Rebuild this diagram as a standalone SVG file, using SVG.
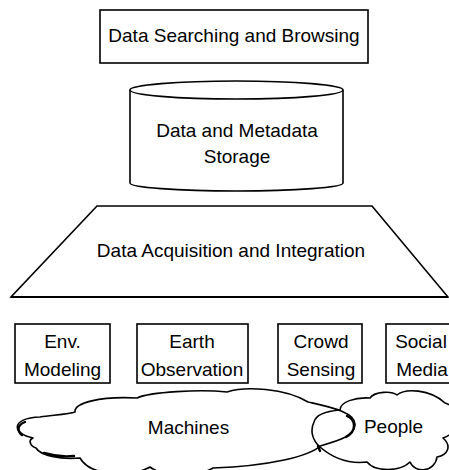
<svg xmlns="http://www.w3.org/2000/svg" width="449" height="470" viewBox="0 0 449 470">
  <style>
    .shape { fill: #ffffff; stroke: #000000; stroke-width: 1.6; stroke-linejoin: miter; }
    .cloud { fill: none; stroke: #000000; stroke-width: 1.6; stroke-linejoin: round; }
    .heavy { fill: none; stroke: #000000; stroke-width: 2.4; stroke-linecap: round; }
    .label { font-family: "Liberation Sans", Arial, sans-serif; font-size: 19px; fill: #000000; text-anchor: middle; }
  </style>

  <rect width="449" height="470" fill="#ffffff"/>

  <!-- Top layer: searching / browsing -->
  <g id="search">
    <rect class="shape" x="100" y="10" width="268" height="53"/>
    <text class="label" x="234" y="42">Data Searching and Browsing</text>
  </g>

  <!-- Storage cylinder -->
  <g id="storage">
    <path class="shape" d="M130 90 L130 183 A106.5 8 0 0 0 343 183 L343 90"/>
    <ellipse class="shape" cx="236.5" cy="90" rx="106.5" ry="9"/>
    <text class="label" x="237" y="137">Data and Metadata</text>
    <text class="label" x="237" y="163">Storage</text>
  </g>

  <!-- Acquisition trapezoid -->
  <g id="acquisition">
    <polygon class="shape" points="97,206 372,206 448,297 11,297"/>
    <line x1="11" y1="297" x2="448" y2="297" stroke="#000000" stroke-width="2.2"/>
    <text class="label" x="231" y="257">Data Acquisition and Integration</text>
  </g>

  <!-- Sources -->
  <g id="env-modeling">
    <rect class="shape" x="15" y="324" width="95" height="59"/>
    <text class="label" x="62.5" y="348">Env.</text>
    <text class="label" x="62.5" y="376">Modeling</text>
  </g>
  <g id="earth-observation">
    <rect class="shape" x="137" y="324" width="111" height="59"/>
    <text class="label" x="192" y="348">Earth</text>
    <text class="label" x="192" y="376">Observation</text>
  </g>
  <g id="crowd-sensing">
    <rect class="shape" x="278" y="324" width="84" height="59"/>
    <text class="label" x="321" y="348">Crowd</text>
    <text class="label" x="321" y="376">Sensing</text>
  </g>
  <g id="social-media">
    <rect class="shape" x="386" y="324" width="72" height="59"/>
    <text class="label" x="421" y="348">Social</text>
    <text class="label" x="422" y="376">Media</text>
  </g>

  <!-- Origin clouds -->
  <g id="machines">
    <path class="cloud" d="M75 412
      C74 403 100 396 137 398
      C150 392 200 389 227 392
      C245 386 285 388 308 402
      C330 407 356 412 355 425
      C354 436 340 440 320 446
      C310 456 270 466 213 468
      C195 478 165 478 150 467
      C130 478 90 476 80 458
      C60 460 40 455 36 448
      C30 446 28 440 33 438
      C12 434 10 418 40 417
      C55 415 70 414 75 412 Z"/>
    <path class="heavy" d="M22 435 C17 431 17 425 25 422"/>
    <path class="heavy" d="M44 453 C54 456 64 457 74 456"/>
    <path class="heavy" d="M347 416 C356 420 357 431 346 437"/>
    <path class="heavy" d="M318 446 L320 451"/>
    <text class="label" x="188.5" y="434">Machines</text>
  </g>

  <g id="people">
    <path class="cloud" d="M320 447
      C312 440 310 430 314 422
      C316 414 328 411 340 410
      C340 402 355 397 370 398
      C375 391 392 391 397 395
      C405 388 430 389 445 403
      C462 408 462 432 443 438
      C452 446 448 455 437 457
      C435 472 415 474 410 462
      C400 472 375 472 367 462
      C350 464 335 460 320 447 Z"/>
    <text class="label" x="393.5" y="433">People</text>
  </g>

  <g id="connectors"/>
</svg>
